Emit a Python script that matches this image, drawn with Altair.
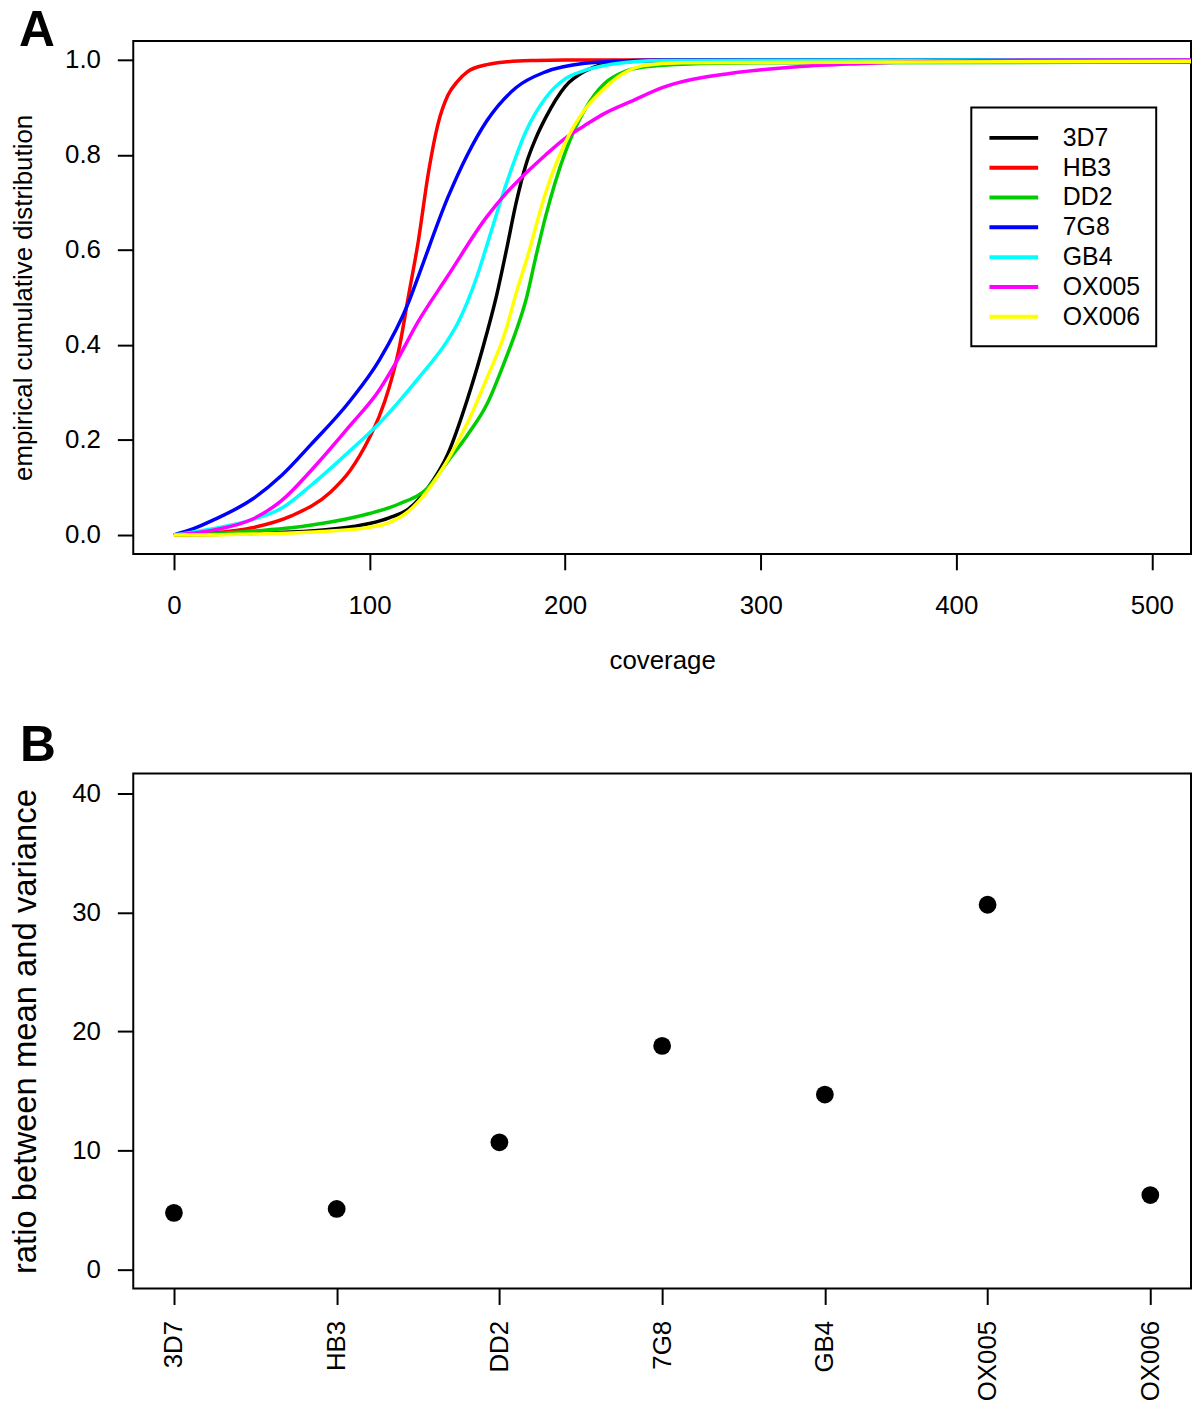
import altair as alt
import pandas as pd

# ---------------- data ----------------
strains = ["3D7", "HB3", "DD2", "7G8", "GB4", "OX005", "OX006"]
strain_colors = ["#000000", "#FF0000", "#00CD00", "#0000FF", "#00FFFF", "#FF00FF", "#FFFF00"]

cov_3d7 = [0, 20, 40, 60, 80, 100, 110, 120, 130, 140, 150, 160, 165, 170, 175, 180, 185, 190, 200, 210, 220, 235, 250, 520]
ecdf_3d7 = [0, 0.001, 0.003, 0.006, 0.012, 0.024, 0.036, 0.055, 0.1, 0.17, 0.285, 0.425, 0.505, 0.6, 0.70, 0.78, 0.835, 0.878, 0.944, 0.976, 0.991, 0.997, 0.999, 1.0]

cov_hb3 = [0, 20, 40, 60, 80, 90, 100, 105, 110, 115, 120, 125, 130, 135, 140, 145, 150, 160, 170, 185, 200, 520]
ecdf_hb3 = [0, 0.004, 0.015, 0.04, 0.09, 0.135, 0.205, 0.25, 0.31, 0.39, 0.505, 0.62, 0.76, 0.865, 0.925, 0.955, 0.975, 0.99, 0.996, 0.999, 1.0, 1.0]

cov_dd2 = [0, 20, 40, 60, 80, 100, 115, 130, 140, 150, 160, 170, 175, 180, 185, 190, 200, 210, 220, 230, 240, 260, 300, 520]
ecdf_dd2 = [0, 0.002, 0.008, 0.015, 0.027, 0.045, 0.065, 0.1, 0.155, 0.21, 0.275, 0.375, 0.43, 0.495, 0.585, 0.67, 0.805, 0.895, 0.95, 0.975, 0.985, 0.991, 0.994, 0.995]

cov_7g8 = [0, 10, 20, 40, 55, 70, 90, 105, 120, 125, 140, 150, 160, 175, 190, 210, 230, 250, 520]
ecdf_7g8 = [0, 0.013, 0.031, 0.075, 0.125, 0.19, 0.282, 0.368, 0.49, 0.545, 0.71, 0.8, 0.872, 0.942, 0.975, 0.993, 0.998, 1.0, 1.0]

cov_gb4 = [0, 20, 40, 55, 70, 90, 105, 125, 140, 145, 150, 155, 160, 170, 180, 190, 200, 210, 220, 235, 250, 520]
ecdf_gb4 = [0, 0.013, 0.032, 0.056, 0.104, 0.177, 0.235, 0.33, 0.41, 0.445, 0.49, 0.545, 0.61, 0.74, 0.85, 0.92, 0.96, 0.978, 0.988, 0.996, 0.999, 1.0]

cov_ox005 = [0, 20, 40, 55, 70, 90, 105, 112, 125, 140, 160, 170, 180, 190, 200, 210, 220, 235, 250, 285, 320, 350, 390, 420, 520]
ecdf_ox005 = [0, 0.01, 0.033, 0.072, 0.135, 0.23, 0.305, 0.352, 0.45, 0.545, 0.67, 0.72, 0.762, 0.8, 0.835, 0.862, 0.887, 0.915, 0.942, 0.972, 0.986, 0.992, 0.997, 0.999, 1.0]

cov_ox006 = [0, 20, 40, 60, 80, 100, 110, 120, 130, 140, 150, 160, 170, 175, 180, 190, 200, 210, 220, 230, 240, 260, 520]
ecdf_ox006 = [0, 0.0, 0.002, 0.004, 0.008, 0.016, 0.026, 0.05, 0.095, 0.158, 0.235, 0.33, 0.435, 0.51, 0.575, 0.72, 0.825, 0.895, 0.94, 0.972, 0.988, 0.994, 0.997]

ratio_values = [4.76, 5.09, 10.69, 18.79, 14.70, 30.65, 6.26]

x_ticks = [0, 100, 200, 300, 400, 500]
ecdf_ticks = [0.0, 0.2, 0.4, 0.6, 0.8, 1.0]
ratio_ticks = [0, 10, 20, 30, 40]

# ---------------- tables ----------------
curves = [
    ("3D7", cov_3d7, ecdf_3d7),
    ("HB3", cov_hb3, ecdf_hb3),
    ("DD2", cov_dd2, ecdf_dd2),
    ("7G8", cov_7g8, ecdf_7g8),
    ("GB4", cov_gb4, ecdf_gb4),
    ("OX005", cov_ox005, ecdf_ox005),
    ("OX006", cov_ox006, ecdf_ox006),
]
rows = []
for name, xs, ys in curves:
    for xv, yv in zip(xs, ys):
        rows.append({"strain": name, "order": strains.index(name), "coverage": xv, "ecdf": yv})
df_a = pd.DataFrame(rows)
df_b = pd.DataFrame({"strain": strains, "ratio": ratio_values})

FONT = "Liberation Sans"

# ---------------- panel A ----------------
panel_a = alt.Chart(df_a).mark_line(strokeWidth=3.5, interpolate="monotone", clip=True).encode(
    x=alt.X("coverage:Q",
            scale=alt.Scale(domain=[-20.8, 520], nice=False, zero=False),
            axis=alt.Axis(values=x_ticks, format="d", title="coverage",
                          labelPadding=23, titleY=115, titleBaseline="alphabetic")),
    y=alt.Y("ecdf:Q",
            scale=alt.Scale(domain=[-0.04, 1.04], nice=False, zero=False),
            axis=alt.Axis(values=ecdf_ticks, format=".1f",
                          title="empirical cumulative distribution",
                          labelPadding=17, titleX=-102, titleY=258,
                          titleAngle=270, titleBaseline="alphabetic")),
    color=alt.Color("strain:N",
                    scale=alt.Scale(domain=strains, range=strain_colors),
                    legend=alt.Legend(orient="none", legendX=843, legendY=67, title=None,
                                      symbolType="M-1,0H3", symbolSize=600, symbolStrokeWidth=4,
                                      labelFontSize=25, labelOffset=47, padding=16,
                                      rowPadding=2, strokeColor="black", fillColor="white")),
    detail="order:O",
).properties(
    width=1064, height=516,
    title=alt.TitleParams(text="A", anchor="start", frame="group", fontSize=50,
                          fontWeight="bold", font=FONT, color="black",
                          baseline="alphabetic", offset=-55, dx=-115),
)

# ---------------- panel B ----------------
panel_b = alt.Chart(df_b).mark_circle(size=320, opacity=1, color="black").encode(
    x=alt.X("strain:N", sort=strains,
            scale=alt.Scale(type="point", padding=0.25),
            axis=alt.Axis(title=None, labelAngle=270, labelAlign="right",
                          labelBaseline="middle", labelPadding=16)),
    y=alt.Y("ratio:Q",
            scale=alt.Scale(domain=[-1.6, 41.67], nice=False, zero=False),
            axis=alt.Axis(values=ratio_ticks, format="d",
                          title="ratio between mean and variance",
                          titleFontSize=33, labelPadding=17, titleX=-98, titleY=259,
                          titleAngle=270, titleBaseline="alphabetic")),
).properties(
    width=1064, height=518,
    title=alt.TitleParams(text="B", anchor="start", frame="group", fontSize=50,
                          fontWeight="bold", font=FONT, color="black",
                          baseline="alphabetic", offset=-37, dx=-114),
)

chart = alt.vconcat(panel_a, panel_b, spacing=46).properties(
    padding={"left": 0, "top": -7, "right": 0, "bottom": 0}
).configure(
    font=FONT,
).configure_view(
    stroke="black", strokeWidth=2,
).configure_axis(
    domain=False, grid=False,
    tickColor="black", tickWidth=2, tickSize=16,
    labelColor="black", titleColor="black",
    labelFont=FONT, titleFont=FONT,
    labelFontSize=26, titleFontSize=26, titleFontWeight="normal",
).configure_legend(
    labelFont=FONT, labelColor="black", strokeWidth=2,
)

chart.save("out.html", embed_options={"renderer": "svg", "actions": False})
